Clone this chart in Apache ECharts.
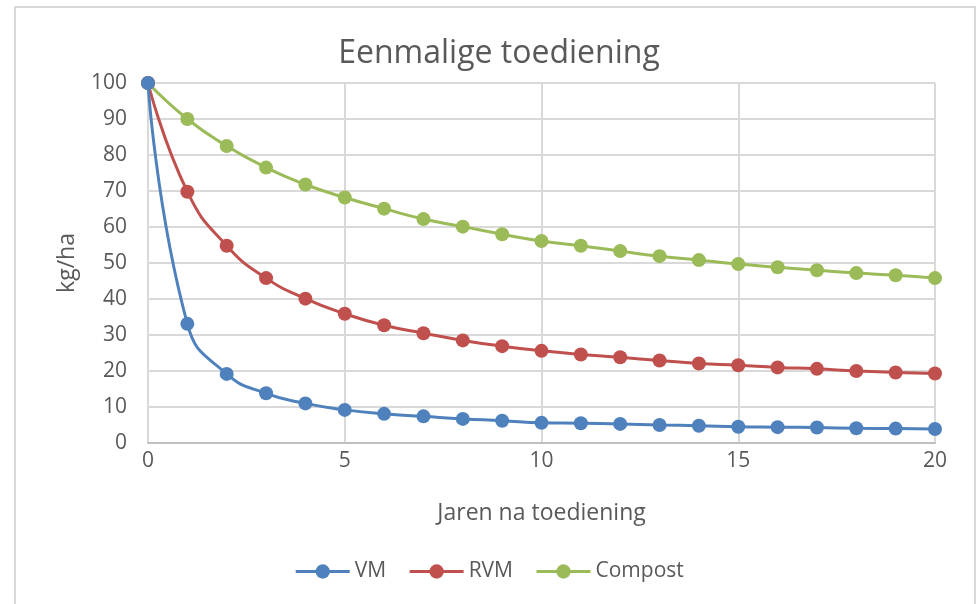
<!DOCTYPE html>
<html>
<head>
<meta charset="utf-8">
<script src="https://cdn.jsdelivr.net/npm/echarts@6/dist/echarts.min.js"></script>
<style>
  html, body { margin: 0; padding: 0; background: #fff; }
  #chart { width: 978px; height: 604px; }
</style>
</head>
<body>
<div id="chart"></div>
<script>
// Years after application
const years = [0, 1, 2, 3, 4, 5, 6, 7, 8, 9, 10, 11, 12, 13, 14, 15, 16, 17, 18, 19, 20];

// Remaining amount (kg/ha) per product
const vm      = [100, 33.1, 19.2, 13.8, 11.0, 9.2, 8.1, 7.4, 6.7, 6.2, 5.6, 5.5, 5.3, 5.0, 4.8, 4.5, 4.4, 4.3, 4.1, 4.0, 3.9];
const rvm     = [100, 69.8, 54.8, 45.8, 40.1, 35.9, 32.7, 30.5, 28.5, 26.9, 25.6, 24.6, 23.8, 22.9, 22.1, 21.6, 21.0, 20.6, 20.0, 19.6, 19.3];
const compost = [100, 90.0, 82.5, 76.5, 71.8, 68.2, 65.1, 62.2, 60.1, 58.0, 56.1, 54.8, 53.3, 51.9, 50.8, 49.7, 48.8, 48.0, 47.2, 46.6, 45.8];

const seriesNames = ['VM', 'RVM', 'Compost'];
const seriesColors = ['#4f81bd', '#c0504d', '#9bbb59'];
const seriesData = [vm, rvm, compost];

const FONT = '"Open Sans", "Noto Sans", sans-serif';
const TEXT = '#595959';

const chart = echarts.init(document.getElementById('chart'), null, { renderer: 'canvas' });

chart.setOption({
  backgroundColor: '#fff',
  animation: false,
  textStyle: { fontFamily: FONT, color: TEXT },
  graphic: [{
    type: 'rect',
    shape: { x: 15, y: 7, width: 960, height: 620 },
    style: { fill: 'none', stroke: '#d9d9d9', lineWidth: 2 },
    silent: true
  }],
  title: {
    text: 'Eenmalige toediening',
    left: 494,
    textAlign: 'center',
    top: 33,
    textStyle: { fontFamily: FONT, fontSize: 32, fontWeight: 'normal', color: TEXT }
  },
  legend: {
    data: seriesNames,
    bottom: 17,
    left: 'center',
    itemWidth: 54,
    itemHeight: 18,
    itemGap: 22,
    lineStyle: { width: 3 },
    textStyle: { fontFamily: FONT, fontSize: 21, color: TEXT }
  },
  grid: { left: 148, right: 43, top: 83, bottom: 161, containLabel: false },
  xAxis: {
    type: 'value',
    min: 0,
    max: 20,
    interval: 5,
    name: 'Jaren na toediening',
    nameLocation: 'middle',
    nameGap: 59,
    nameTextStyle: { fontFamily: FONT, fontSize: 23, color: TEXT },
    axisLine: { show: true, lineStyle: { color: '#bfbfbf', width: 2 } },
    axisTick: { show: false },
    axisLabel: { margin: 8, fontFamily: FONT, fontSize: 21, color: TEXT },
    splitLine: { show: true, lineStyle: { color: '#d9d9d9', width: 2 } }
  },
  yAxis: {
    type: 'value',
    min: 0,
    max: 100,
    interval: 10,
    name: 'kg/ha',
    nameLocation: 'middle',
    nameGap: 69,
    nameTextStyle: { fontFamily: FONT, fontSize: 23, color: TEXT },
    axisLine: { show: false },
    axisTick: { show: false },
    axisLabel: { margin: 21, fontFamily: FONT, fontSize: 21, color: TEXT },
    splitLine: { show: true, lineStyle: { color: '#d9d9d9', width: 2 } }
  },
  series: seriesNames.map((name, i) => ({
    name: name,
    type: 'line',
    data: years.map((y, k) => [y, seriesData[i][k]]),
    smooth: 0.5,
    symbol: 'circle',
    symbolSize: 14,
    showSymbol: true,
    itemStyle: { color: seriesColors[i] },
    lineStyle: { color: seriesColors[i], width: 3 },
    z: 3 - i
  }))
});
</script>
</body>
</html>
